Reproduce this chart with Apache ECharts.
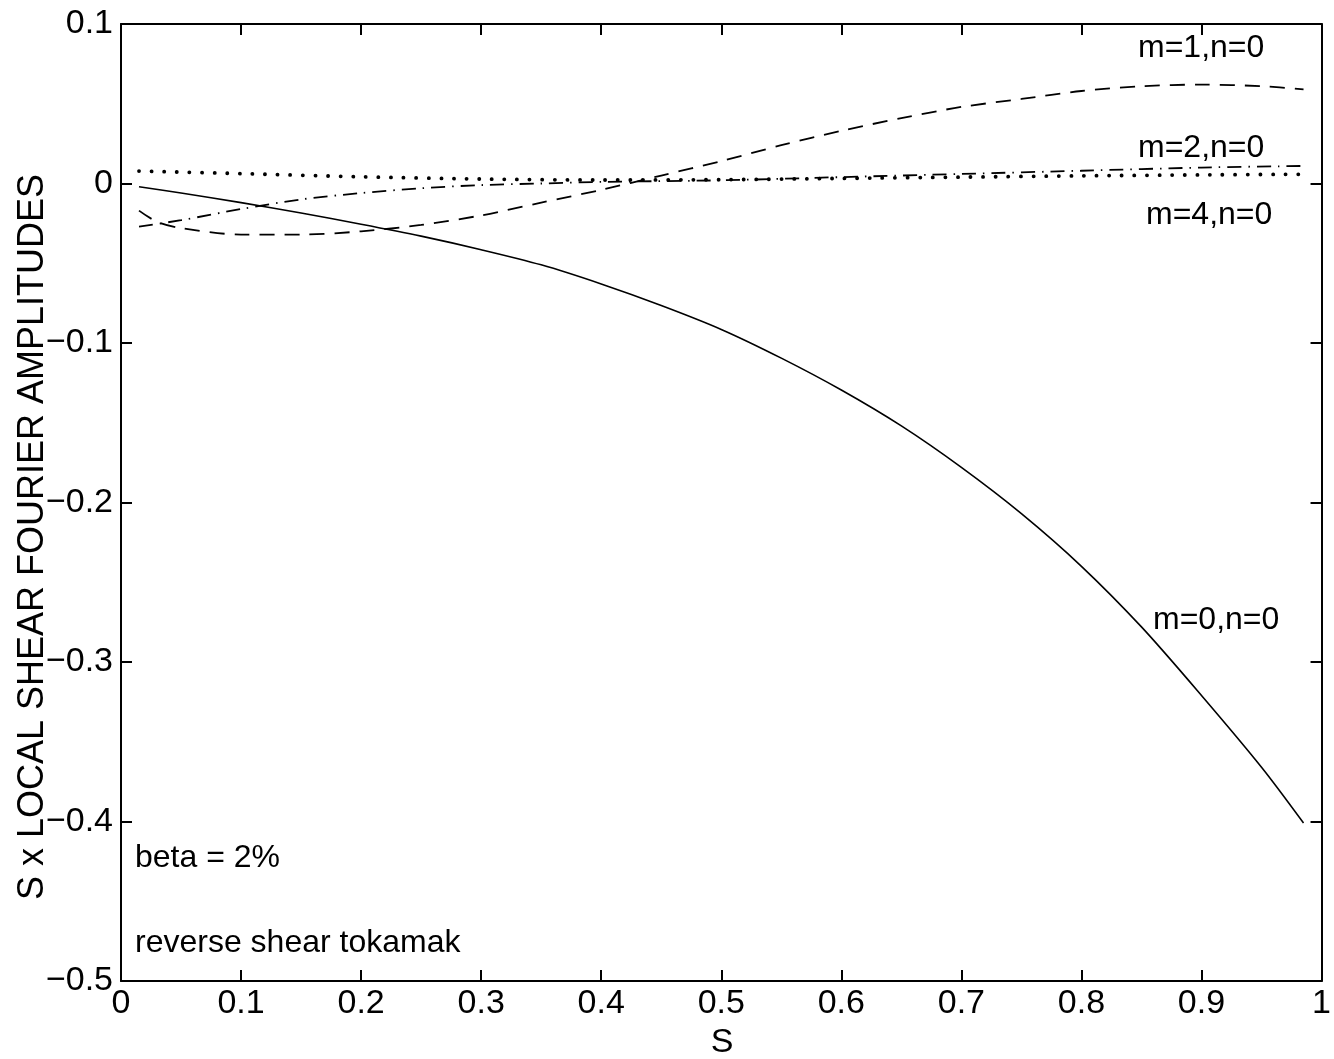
<!DOCTYPE html>
<html>
<head>
<meta charset="utf-8">
<script src="https://cdn.jsdelivr.net/npm/echarts@6/dist/echarts.min.js"></script>
<style>
  html, body { margin: 0; padding: 0; background: #fff; }
  #chart { width: 1334px; height: 1059px; }
</style>
</head>
<body>
<div id="chart"></div>
<script>
// Radial coordinate S
const sM0 = [0.015, 0.05, 0.1, 0.15, 0.2, 0.25, 0.3, 0.35, 0.4, 0.45, 0.5, 0.55, 0.6, 0.65, 0.7, 0.75, 0.8, 0.85, 0.9, 0.95, 0.985];
// m=0,n=0 amplitude (solid)
const ampM0 = [-0.002, -0.006, -0.012, -0.0185, -0.0255, -0.033, -0.0415, -0.051, -0.063, -0.0765, -0.0915, -0.1095, -0.1295, -0.152, -0.178, -0.207, -0.240, -0.278, -0.321, -0.366, -0.401];

const sM1 = [0.015, 0.03, 0.05, 0.1, 0.15, 0.2, 0.25, 0.3, 0.35, 0.4, 0.45, 0.5, 0.55, 0.6, 0.65, 0.7, 0.75, 0.8, 0.85, 0.9, 0.95, 0.985];
// m=1,n=0 amplitude (dashed)
const ampM1 = [-0.017, -0.024, -0.028, -0.032, -0.032, -0.030, -0.026, -0.020, -0.012, -0.004, 0.005, 0.014, 0.024, 0.033, 0.041, 0.048, 0.053, 0.058, 0.061, 0.062, 0.061, 0.059];

const sM2 = [0.015, 0.05, 0.1, 0.15, 0.2, 0.25, 0.3, 0.35, 0.4, 0.5, 0.6, 0.7, 0.8, 0.9, 0.985];
// m=2,n=0 amplitude (dash-dot)
const ampM2 = [-0.027, -0.023, -0.016, -0.010, -0.006, -0.003, -0.001, 0.0, 0.001, 0.002, 0.004, 0.006, 0.008, 0.010, 0.011];

const sM4 = [0.015, 0.1, 0.2, 0.3, 0.4, 0.5, 0.6, 0.7, 0.8, 0.9, 0.985];
// m=4,n=0 amplitude (dotted)
const ampM4 = [0.0078, 0.0062, 0.0042, 0.0028, 0.0022, 0.0024, 0.0032, 0.0040, 0.0048, 0.0054, 0.0058];

const curveLabels = ['m=0,n=0', 'm=1,n=0', 'm=2,n=0', 'm=4,n=0'];
const notes = ['beta = 2%', 'reverse shear tokamak'];
const xTitle = 'S';
const yTitle = 'S x LOCAL SHEAR FOURIER AMPLITUDES';

const FONT = '"Liberation Sans", Arial, Helvetica, sans-serif';

function pairs(xs, ys) { return xs.map((x, i) => [x, ys[i]]); }
function fmt(v) {
  let t = Math.abs(v) < 1e-9 ? '0' : v.toFixed(1);
  if (t === '1.0') t = '1';
  return t.replace('-', '\u2212');
}

const axisLine = { show: true, onZero: false, lineStyle: { color: '#000', width: 2 } };
const tick = { show: true, inside: true, length: 11, lineStyle: { color: '#000', width: 2 } };
const labelStyle = { formatter: fmt, color: '#000', fontSize: 34, fontFamily: FONT };

const chart = echarts.init(document.getElementById('chart'), null, { renderer: 'canvas' });

chart.setOption({
  backgroundColor: '#fff',
  animation: false,
  grid: { left: 121, right: 7, top: 24, bottom: 78, show: false },
  xAxis: [
    { type: 'value', min: 0, max: 1, interval: 0.1, position: 'bottom',
      axisLine, axisTick: tick, splitLine: { show: false },
      axisLabel: Object.assign({ margin: 6 }, labelStyle) },
    { type: 'value', min: 0, max: 1, interval: 0.1, position: 'top',
      axisLine, axisTick: tick, splitLine: { show: false }, axisLabel: { show: false } }
  ],
  yAxis: [
    { type: 'value', min: -0.5, max: 0.1, interval: 0.1, position: 'left',
      axisLine, axisTick: tick, splitLine: { show: false },
      axisLabel: Object.assign({ margin: 8 }, labelStyle) },
    { type: 'value', min: -0.5, max: 0.1, interval: 0.1, position: 'right',
      axisLine, axisTick: tick, splitLine: { show: false }, axisLabel: { show: false } }
  ],
  series: [
    { name: curveLabels[0], type: 'line', data: pairs(sM0, ampM0), smooth: 0.3, symbol: 'none',
      lineStyle: { color: '#000', width: 1.6 } },
    { name: curveLabels[1], type: 'line', data: pairs(sM1, ampM1), smooth: 0.3, symbol: 'none',
      lineStyle: { color: '#000', width: 1.8, type: [15, 10] } },
    { name: curveLabels[2], type: 'line', data: pairs(sM2, ampM2), smooth: 0.3, symbol: 'none',
      lineStyle: { color: '#000', width: 1.8, type: [14, 7, 1.5, 7] } },
    { name: curveLabels[3], type: 'line', data: pairs(sM4, ampM4), smooth: 0.3, symbol: 'none',
      lineStyle: { color: '#000', width: 3.8, type: [0.1, 12.5], cap: 'round' } }
  ],
  graphic: [
    { type: 'text', x: 1138, y: 48, style: { text: curveLabels[1], font: '32px ' + FONT, fill: '#000', verticalAlign: 'middle' } },
    { type: 'text', x: 1138, y: 148, style: { text: curveLabels[2], font: '32px ' + FONT, fill: '#000', verticalAlign: 'middle' } },
    { type: 'text', x: 1146, y: 215, style: { text: curveLabels[3], font: '32px ' + FONT, fill: '#000', verticalAlign: 'middle' } },
    { type: 'text', x: 1153, y: 620, style: { text: curveLabels[0], font: '32px ' + FONT, fill: '#000', verticalAlign: 'middle' } },
    { type: 'text', x: 135, y: 858, style: { text: notes[0], font: '32px ' + FONT, fill: '#000', verticalAlign: 'middle' } },
    { type: 'text', x: 135, y: 943, style: { text: notes[1], font: '32px ' + FONT, fill: '#000', verticalAlign: 'middle' } },
    { type: 'text', x: 722, y: 1043, style: { text: xTitle, font: '34px ' + FONT, fill: '#000', align: 'center', verticalAlign: 'middle' } },
    { type: 'text', x: 33, y: 537, rotation: Math.PI / 2,
      style: { text: yTitle, font: '36px ' + FONT, fill: '#000', align: 'center', verticalAlign: 'middle' } }
  ]
});
</script>
</body>
</html>
